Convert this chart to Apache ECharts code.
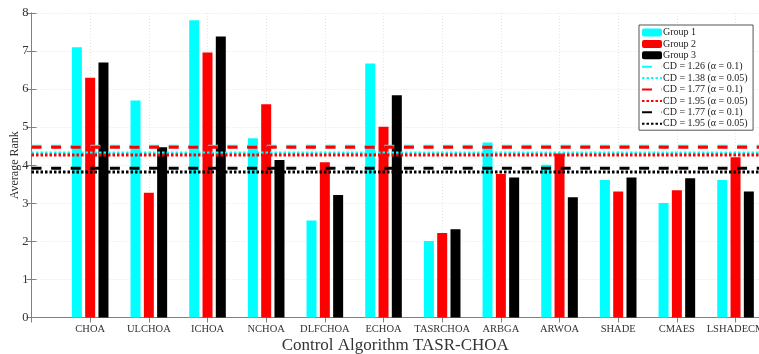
<!DOCTYPE html>
<html>
<head>
<meta charset="utf-8">
<script src="https://cdn.jsdelivr.net/npm/echarts@6/dist/echarts.min.js"></script>
<style>
  html, body { margin: 0; padding: 0; background: #fff; }
  #main { width: 759px; height: 354px; }
</style>
</head>
<body>
<div id="main"></div>
<script>
var algorithms = ["CHOA", "ULCHOA", "ICHOA", "NCHOA", "DLFCHOA", "ECHOA",
  "TASRCHOA", "ARBGA", "ARWOA", "SHADE", "CMAES", "LSHADECM"];
var group1 = [7.10, 5.70, 7.81, 4.71, 2.55, 6.67, 2.01, 4.60, 4.01, 3.61, 3.01, 3.61];
var group2 = [6.30, 3.28, 6.96, 5.60, 4.08, 5.01, 2.22, 3.77, 4.31, 3.31, 3.34, 4.21];
var group3 = [6.70, 4.47, 7.38, 4.14, 3.22, 5.84, 2.32, 3.68, 3.16, 3.68, 3.66, 3.31];
var groupNames = ["Group 1", "Group 2", "Group 3"];
var groupColors = ["#00ffff", "#ff0000", "#000000"];

// critical difference lines
var cdNames = ["CD = 1.26 (\u03b1 = 0.1)", "CD = 1.38 (\u03b1 = 0.05)",
  "CD = 1.77 (\u03b1 = 0.1)", "CD = 1.95 (\u03b1 = 0.05)",
  "CD = 1.77 (\u03b1 = 0.1) ", "CD = 1.95 (\u03b1 = 0.05) "];
var cdLevels = [4.50, 4.32, 4.47, 4.27, 3.92, 3.82];
var cdColors = ["#00ffff", "#00ffff", "#ff0000", "#ff0000", "#000000", "#000000"];
var cdDashed = [true, false, true, false, true, false];

var xMax = 12.4;
var serif = "Liberation Serif";

var chart = echarts.init(document.getElementById("main"));

var series = [];
[group1, group2, group3].forEach(function (vals, g) {
  series.push({
    name: groupNames[g],
    type: "bar",
    barWidth: 10,
    barGap: "33%",
    color: groupColors[g],
    itemStyle: { color: groupColors[g] },
    data: vals.map(function (v, i) { return [i + 1, v]; })
  });
});
cdLevels.forEach(function (lv, k) {
  series.push({
    name: cdNames[k],
    type: "line",
    symbol: "none",
    silent: true,
    z: 3,
    color: cdColors[k],
    lineStyle: {
      color: cdColors[k],
      width: 3,
      type: cdDashed[k] ? [10, 9.6] : [2.5, 2]
    },
    data: [[0, lv], [xMax, lv]]
  });
});

var legendData = groupNames.slice();
cdNames.forEach(function (n) {
  legendData.push({ name: n, itemStyle: { opacity: 0 } });
});

var gridLine = { show: true, lineStyle: { color: "#e4e4e4", type: [1, 2], width: 1 } };

var option = {
  animation: false,
  grid: { left: 31.5, right: 0, top: 13, bottom: 36.5, outerBoundsMode: "none", containLabel: false },
  legend: {
    orient: "vertical",
    left: 639,
    top: 25,
    z: 10,
    padding: [2, 3, 1, 2],
    itemWidth: 20,
    itemHeight: 8,
    itemGap: 0.4,
    backgroundColor: "#fff",
    borderColor: "#555",
    borderWidth: 1,
    borderRadius: 0,
    textStyle: { fontFamily: serif, fontSize: 10, lineHeight: 11, color: "#222", padding: [0, 0, 0, -4] },
    data: legendData
  },
  xAxis: [{
    type: "value",
    min: 0,
    max: xMax,
    interval: 1,
    name: "Control Algorithm TASR-CHOA",
    nameLocation: "middle",
    nameGap: 20,
    nameMoveOverlap: false,
    nameTextStyle: { fontFamily: serif, fontSize: 17, color: "#333" },
    axisLine: { show: true, onZero: false, lineStyle: { color: "#808080" } },
    axisTick: { show: true, inside: true, length: 5, lineStyle: { color: "#808080" } },
    axisLabel: {
      fontFamily: serif, fontSize: 10.5, color: "#333", margin: 6,
      showMaxLabel: false,
      formatter: function (v) { return algorithms[Math.round(v) - 1] || ""; }
    },
    splitLine: gridLine
  }, {
    type: "value",
    position: "top",
    min: 0,
    max: xMax,
    interval: 1,
    axisLine: { show: true, lineStyle: { color: "#808080" } },
    axisTick: { show: true, inside: true, length: 5, lineStyle: { color: "#808080" } },
    axisLabel: { show: false },
    splitLine: { show: false }
  }],
  yAxis: [{
    type: "value",
    min: 0,
    max: 8,
    interval: 1,
    name: "Average Rank",
    nameLocation: "middle",
    nameGap: 11,
    nameMoveOverlap: false,
    nameTextStyle: { fontFamily: serif, fontSize: 12, color: "#333" },
    axisLine: { show: true, lineStyle: { color: "#808080" } },
    axisTick: { show: true, inside: true, length: 5, lineStyle: { color: "#808080" } },
    axisLabel: { fontFamily: serif, fontSize: 12.5, color: "#333", margin: 3 },
    splitLine: gridLine
  }, {
    type: "value",
    position: "right",
    min: 0,
    max: 8,
    interval: 1,
    axisLine: { show: true, lineStyle: { color: "#808080" } },
    axisTick: { show: true, inside: true, length: 5, lineStyle: { color: "#808080" } },
    axisLabel: { show: false },
    splitLine: { show: false }
  }],
  series: series
};

chart.setOption(option);
</script>
</body>
</html>
